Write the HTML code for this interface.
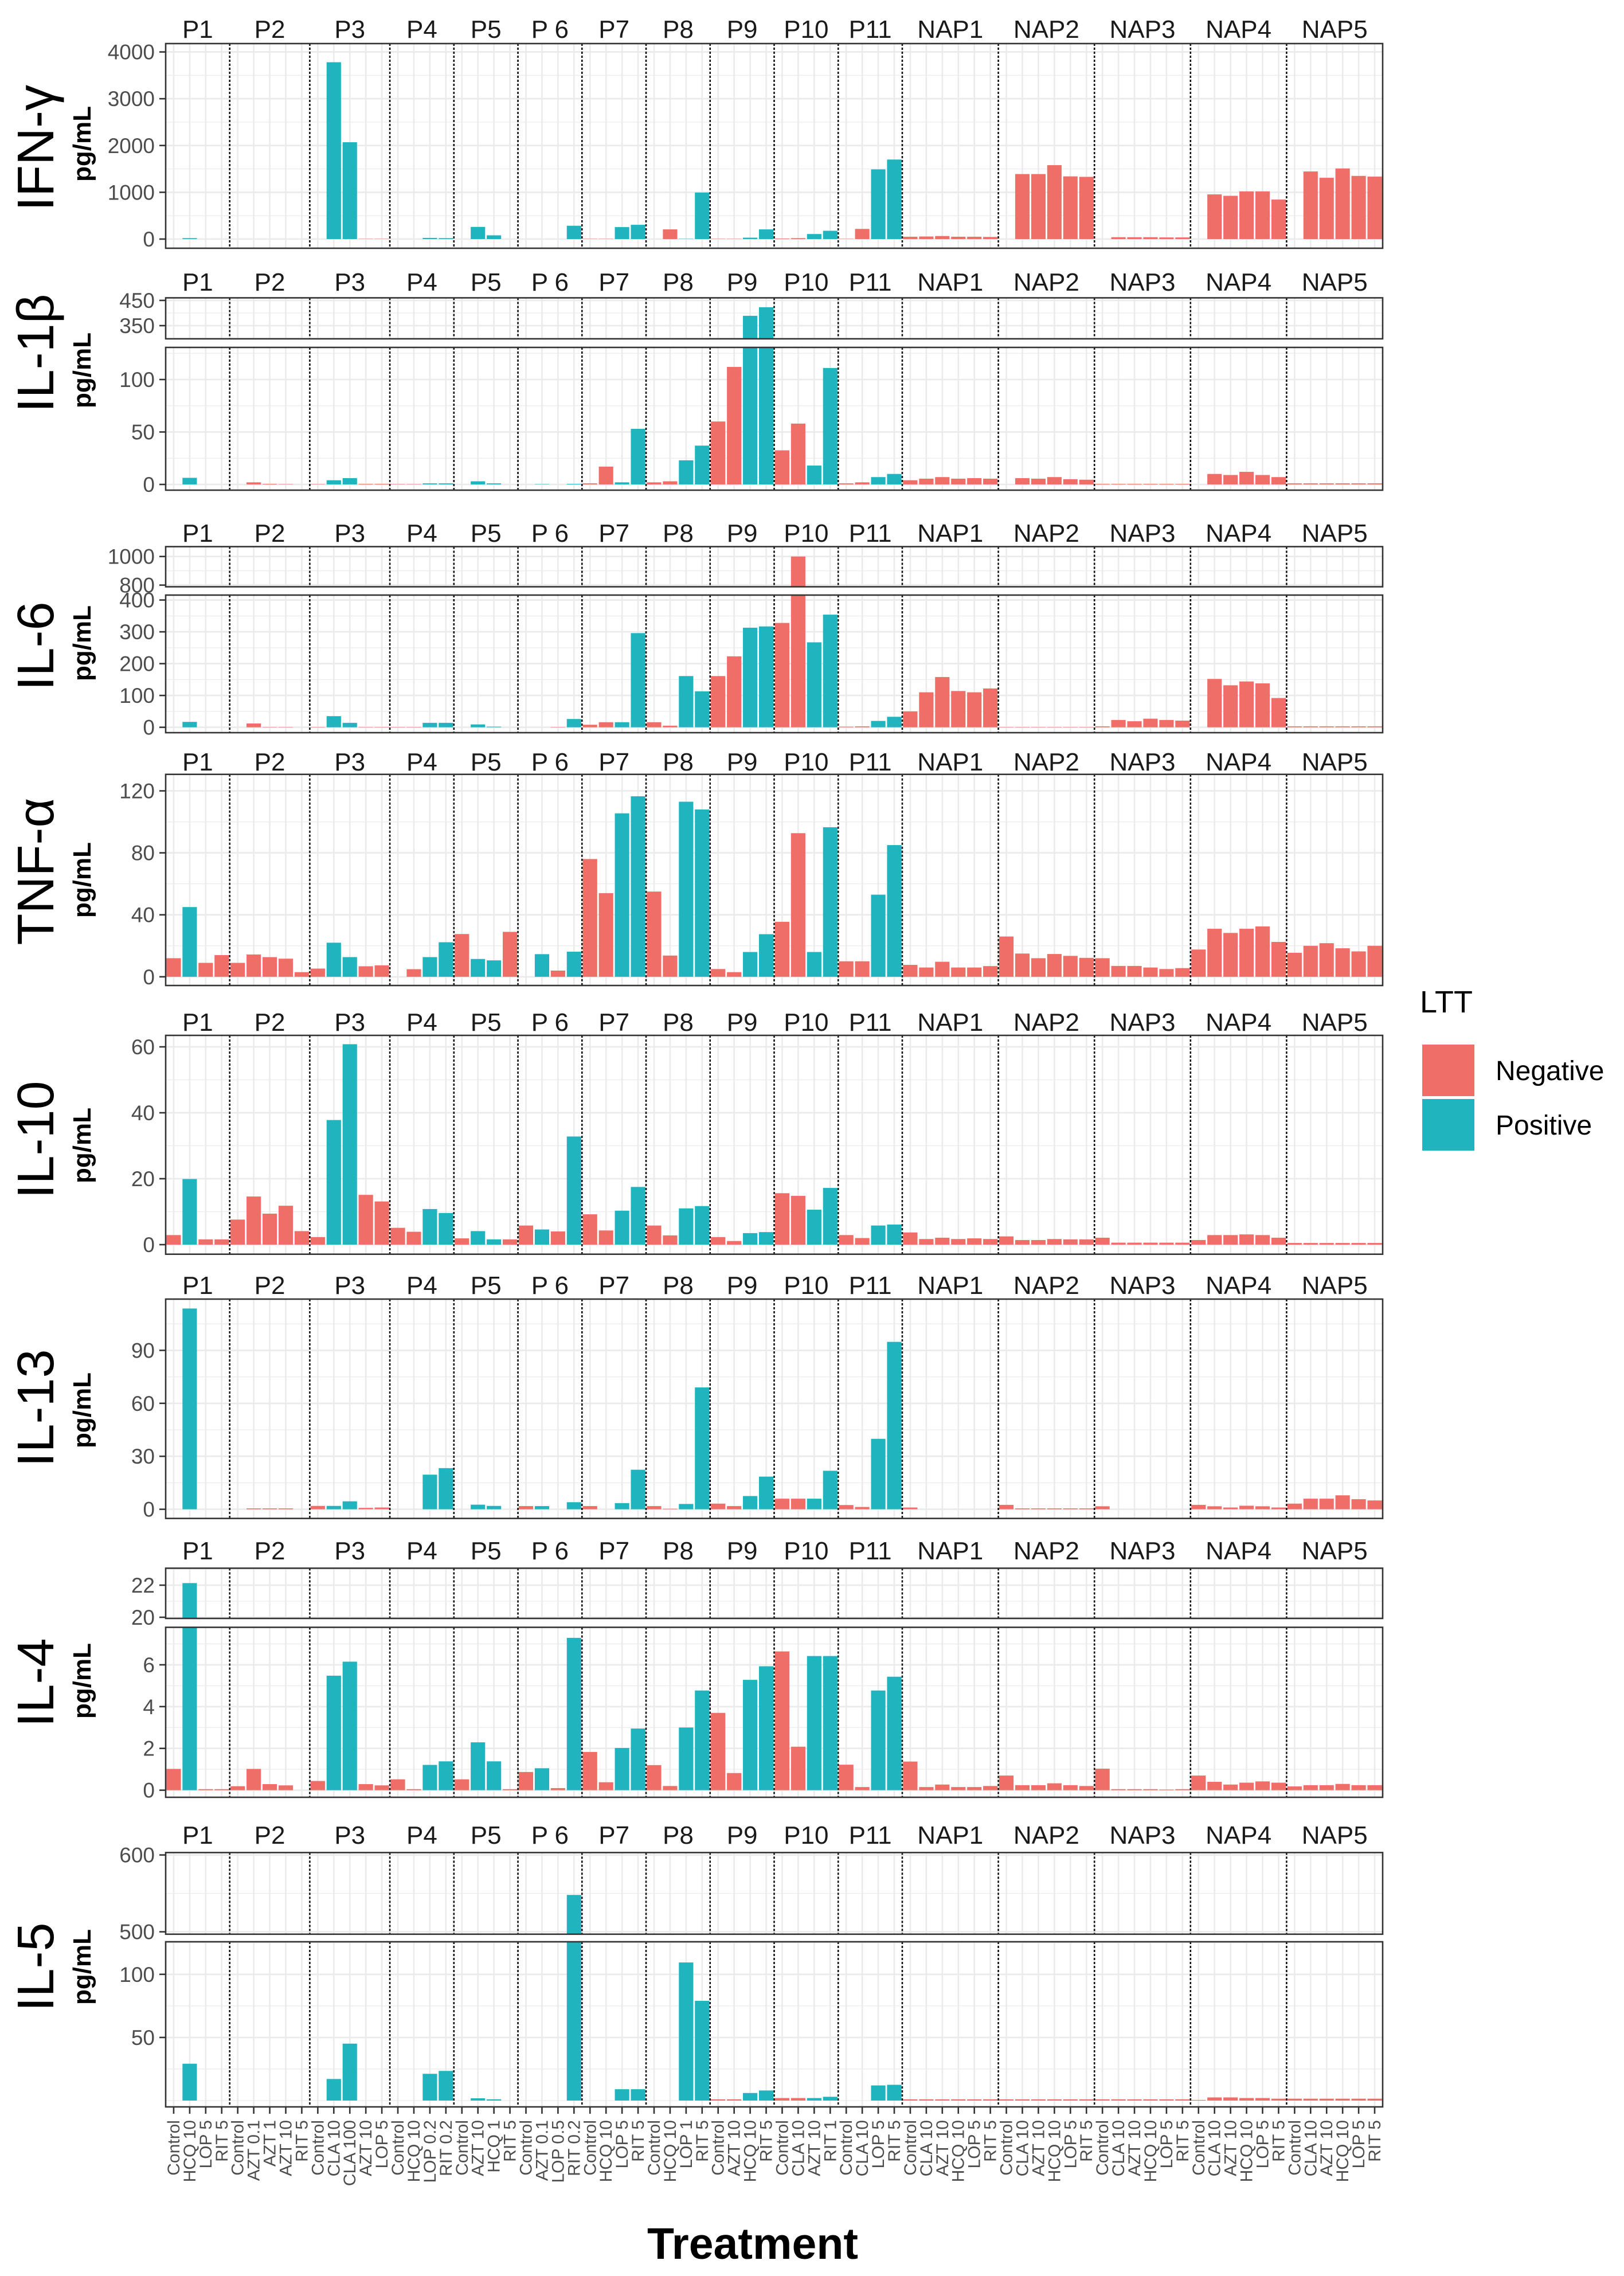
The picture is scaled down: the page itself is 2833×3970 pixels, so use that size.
<!DOCTYPE html>
<html><head><meta charset="utf-8"><title>Cytokines by treatment</title>
<style>
html,body{margin:0;padding:0;background:#fff;}
svg{display:block;font-family:"Liberation Sans",Arial,sans-serif;}
</style></head>
<body>
<svg id="chart" xmlns="http://www.w3.org/2000/svg" width="2833" height="3970" viewBox="0 0 2833 3970">
<rect x="0" y="0" width="2833" height="3970" fill="#fff"/>
</svg>
<script>
// ---------- DATA ----------
const facetNames = ["P1","P2","P3","P4","P5","P 6","P7","P8","P9","P10","P11","NAP1","NAP2","NAP3","NAP4","NAP5"];
const facetCounts = [4,5,5,4,4,4,4,4,4,4,4,6,6,6,6,6];
const treatments = [
 "Control","HCQ 10","LOP 5","RIT 5",
 "Control","AZT 0.1","AZT 1","AZT 10","RIT 5",
 "Control","CLA 10","CLA 100","AZT 10","LOP 5",
 "Control","HCQ 10","LOP 0.2","RIT 0.2",
 "Control","AZT 10","HCQ 1","RIT 5",
 "Control","AZT 0.1","LOP 0.5","RIT 0.2",
 "Control","HCQ 10","LOP 5","RIT 5",
 "Control","HCQ 10","LOP 1","RIT 5",
 "Control","AZT 10","HCQ 10","RIT 5",
 "Control","CLA 10","AZT 10","RIT 1",
 "Control","CLA 10","LOP 5","RIT 5",
 "Control","CLA 10","AZT 10","HCQ 10","LOP 5","RIT 5",
 "Control","CLA 10","AZT 10","HCQ 10","LOP 5","RIT 5",
 "Control","CLA 10","AZT 10","HCQ 10","LOP 5","RIT 5",
 "Control","CLA 10","AZT 10","HCQ 10","LOP 5","RIT 5",
 "Control","CLA 10","AZT 10","HCQ 10","LOP 5","RIT 5"];
const ltt = [
 "N","P","N","N", "N","N","N","N","N", "N","P","P","N","N", "N","N","P","P", "N","P","P","N",
 "N","P","N","P", "N","N","P","P", "N","N","P","P", "N","N","P","P", "N","N","P","P", "N","N","P","P",
 "N","N","N","N","N","N", "N","N","N","N","N","N", "N","N","N","N","N","N", "N","N","N","N","N","N", "N","N","N","N","N","N"];

const ifnValues = [0,20,0,0, 0,0,0,0,0, 0,3780,2070,5,5, 0,0,25,20, 0,260,80,0, 0,0,0,285, 5,5,256,305, 0,207,5,995, 5,5,30,207, 10,20,108,177, 5,217,1490,1700,
 50,55,65,50,50,45, 0,1390,1390,1580,1340,1330, 0,40,40,40,35,35, 0,955,925,1020,1020,845, 0,1445,1310,1510,1350,1335];
const il1bValues = [0,6.3,0,0, 0,2,0.5,0.3,0, 0.3,4,6,0.5,0.5, 0.3,0.3,1,1, 0,3,1,0, 0,0.3,0,0.5, 1,17,2,53, 2,3,23,37, 60,112,389,423, 32.5,58,18,111, 1,2,7,10,
 4,5.5,7,5.5,6,5.5, 0,6,5.5,7,5,4.5, 0.5,0.5,0.5,0.5,0.5,0.5, 0,10,9,12,9,7, 1,1,1,1,1,1];
const il6Values = [0,17,0,0, 0,12,1,1,0, 1,35,14,1,1, 1,1,14,14, 0,9,2,0, 0,0,1,26, 8,16,16,296, 16,5,161,113, 161,223,313,317, 328,1000,267,354, 2,3,20,33,
 50,110,158,114,110,122, 1,1,1,1,1,1, 3,23,19,27,23,21, 0,152,132,144,138,92, 3,3,3,3,3,3];
const tnfValues = [12,45,9,14, 9,14.4,12.7,11.7,3, 5.3,22,12.7,6.8,7.4, 0,4.9,12.7,22.3, 27.6,11.5,10.6,29, 0,14.6,4,16.2, 76,54,105.5,116.5, 55,13.7,113,108, 5,3,16,27.5, 35.5,92.7,16,96.5, 10,10,53,85,
 7.7,6,9.7,6,6,6.9, 26,15,12,14.7,13.5,12.2, 12,7,7,6,5,5.6, 17.6,31,28.3,31,32.5,22.5, 15.5,20,21.7,18.4,16.4,20];
const il10Values = [2.9,19.9,1.6,1.6, 7.6,14.6,9.4,11.8,4.1, 2.3,37.8,60.8,15.1,13.1, 5.1,3.9,10.8,9.6, 1.9,4.1,1.6,1.6, 5.8,4.6,4,32.8, 9.2,4.3,10.3,17.5, 5.8,2.8,11,11.7, 2.3,1.1,3.5,3.8, 15.6,14.8,10.6,17.2, 2.9,2,5.8,6.1,
 3.7,1.7,2.1,1.7,1.9,1.7, 2.5,1.4,1.4,1.7,1.6,1.6, 2.1,0.6,0.6,0.6,0.6,0.6, 1.4,2.9,2.9,3.1,2.9,2.1, 0.5,0.5,0.5,0.5,0.5,0.5];
const il13Values = [0,113.7,0,0, 0,0.5,0.5,0.5,0, 1.9,1.9,4.5,0.8,1, 0,0,19.6,23.3, 0,2.6,1.9,0, 1.8,1.8,0,4, 1.8,0,3.5,22.4, 1.8,0.3,3,69, 3.2,1.8,7.5,18.5, 6,6,6,21.8, 2.4,1.3,39.9,94.8,
 1,0,0,0,0,0, 2.5,0.5,0.5,0.5,0.5,0.5, 1.7,0,0,0,0,0, 2.5,1.7,1,2,1.7,1, 3.2,6,6,7.9,5.7,5];
const il4Values = [1.02,22.13,0.05,0.05, 0.19,1.02,0.29,0.23,0, 0.44,5.48,6.15,0.29,0.23, 0.52,0.05,1.21,1.38, 0.52,2.29,1.38,0.05, 0.87,1.05,0.1,7.29, 1.83,0.38,2.02,2.95, 1.2,0.2,3.0,4.77, 3.7,0.82,5.28,5.93, 6.64,2.08,6.42,6.42, 1.22,0.15,4.77,5.43,
 1.37,0.15,0.27,0.15,0.15,0.2, 0.7,0.24,0.24,0.33,0.24,0.2, 1.03,0.05,0.05,0.05,0.03,0.05, 0.7,0.4,0.27,0.36,0.42,0.36, 0.18,0.24,0.24,0.3,0.24,0.24];
const il5Values = [0,29.2,0,0, 0,0,0,0,0, 0,17.1,45.1,0,0, 0,0,21.2,23.5, 0,1.8,1,0, 0,0,0,548, 0,0,9,9, 0,0,109.4,79, 1,1,6,8, 2,2,2,3, 0,0,12,12.5,
 1,1,1,1,1,1, 1,1,1,1,1,1, 1,1,1,1,1,1, 0.5,2.5,2.5,2,2,1.5, 1.5,1.5,1.5,1.5,1.5,1.5];

const cytokineNames = ["IFN-γ","IL-1β","IL-6","TNF-α","IL-10","IL-13","IL-4","IL-5"];
const ifnTicks = [0,1000,2000,3000,4000];
const il1bTicksLow = [0,50,100], il1bTicksHigh = [350,450];
const il6TicksLow = [0,100,200,300,400], il6TicksHigh = [800,1000];
const tnfTicks = [0,40,80,120];
const il10Ticks = [0,20,40,60];
const il13Ticks = [0,30,60,90];
const il4TicksLow = [0,2,4,6], il4TicksHigh = [20,22];
const il5TicksLow = [50,100], il5TicksHigh = [500,600];
const legendLabels = ["Negative","Positive"];

// ---------- LAYOUT ----------
const NS = "http://www.w3.org/2000/svg";
const svg = document.getElementById("chart");
const LEFT = 289, RIGHT = 2412, NSLOT = treatments.length;
const SLOT = (RIGHT - LEFT) / NSLOT;
const COL = {N:"#EF6F68", P:"#20B4BF"};
function xPos(i){ return LEFT + i*SLOT; }
function mk(tag, attrs, parent){
  const e = document.createElementNS(NS, tag);
  for (const k in attrs) e.setAttribute(k, attrs[k]);
  (parent||svg).appendChild(e); return e;
}
// panel: {top,bottom,refV,refY,ppu,ticks,minorStep}
const rows = [
 {name:cytokineNames[0], values:ifnValues, strip:50, big:258, pg:251, panels:[
   {top:76,bottom:433,refV:0,refY:417,ppu:0.0816,ticks:ifnTicks,minor:500}]},
 {name:cytokineNames[1], values:il1bValues, strip:491, big:616, pg:646, panels:[
   {top:519.5,bottom:591,refV:450,refY:524,ppu:0.44,ticks:il1bTicksHigh,minor:50},
   {top:606,bottom:855,refV:0,refY:845,ppu:1.83,ticks:il1bTicksLow,minor:25}]},
 {name:cytokineNames[2], values:il6Values, strip:929, big:1127, pg:1122, panels:[
   {top:953.5,bottom:1023.5,refV:1000,refY:970.7,ppu:0.2495,ticks:il6TicksHigh,minor:100},
   {top:1038,bottom:1278,refV:0,refY:1268.6,ppu:0.555,ticks:il6TicksLow,minor:50}]},
 {name:cytokineNames[3], values:tnfValues, strip:1328, big:1520, pg:1535, panels:[
   {top:1350.7,bottom:1719,refV:0,refY:1703.8,ppu:2.7025,ticks:tnfTicks,minor:20}]},
 {name:cytokineNames[4], values:il10Values, strip:1782, big:1988, pg:1998, panels:[
   {top:1806,bottom:2187.7,refV:0,refY:2171,ppu:5.75,ticks:il10Ticks,minor:10}]},
 {name:cytokineNames[5], values:il13Values, strip:2241, big:2456, pg:2460, panels:[
   {top:2266,bottom:2648.6,refV:0,refY:2632.6,ppu:3.08,ticks:il13Ticks,minor:15}]},
 {name:cytokineNames[6], values:il4Values, strip:2704, big:2935, pg:2932, panels:[
   {top:2735.4,bottom:2823,refV:22,refY:2765,ppu:28,ticks:il4TicksHigh,minor:1},
   {top:2838.5,bottom:3135,refV:0,refY:3122.6,ppu:36.45,ticks:il4TicksLow,minor:1}]},
 {name:cytokineNames[7], values:il5Values, strip:3200, big:3431, pg:3431, panels:[
   {top:3231.4,bottom:3373.8,refV:600,refY:3235.6,ppu:1.34,ticks:il5TicksHigh,minor:50},
   {top:3387,bottom:3675,refV:0,refY:3664,ppu:2.202,ticks:il5TicksLow,minor:25}]}
];

const defs = mk("defs",{});
rows.forEach((row, ri) => {
  const slug = row.name.toLowerCase().replace(/[^a-z0-9]+/g,"-");
  const g = mk("g",{});
  
  
  // strip labels
  let start = 0;
  facetNames.forEach((fn, fi) => {
    const cx = xPos(start + facetCounts[fi]/2);
    const t = mk("text",{x:cx,y:row.strip+16,"text-anchor":"middle","font-size":44,fill:"#1a1a1a"},g);
    t.textContent = fn;
    
    
    start += facetCounts[fi];
  });
  // titles
  const big = mk("text",{x:93,y:row.big,"text-anchor":"middle","font-size":90,fill:"#000",transform:`rotate(-90 93 ${row.big})`},g);
  big.textContent = row.name;
  
  
  const pg = mk("text",{x:158,y:row.pg,"text-anchor":"middle","font-size":44,"font-weight":"bold",fill:"#000",transform:`rotate(-90 158 ${row.pg})`},g);
  pg.textContent = "pg/mL";
  
  

  row.panels.forEach((p, pi) => {
    const yOf = v => p.refY - (v - p.refV)*p.ppu;
    const vTop = p.refV + (p.refY - p.top)/p.ppu;
    const vBot = p.refV + (p.refY - p.bottom)/p.ppu;
    const cid = "clip"+ri+"_"+pi;
    const cp = mk("clipPath",{id:cid},defs);
    mk("rect",{x:LEFT,y:p.top,width:RIGHT-LEFT,height:p.bottom-p.top},cp);
    const pg2 = mk("g",{"clip-path":`url(#${cid})`},g);
    
    
    // minor horizontal grid
    const m0 = Math.ceil(vBot/p.minor)*p.minor;
    for (let v = m0; v <= vTop; v += p.minor){
      const isMajor = p.ticks.some(t => Math.abs(t - v) < 1e-9);
      mk("line",{x1:LEFT,x2:RIGHT,y1:yOf(v),y2:yOf(v),stroke:"#ECECEC","stroke-width":isMajor?2.6:1.3},pg2);
    }
    p.ticks.forEach(t => mk("line",{x1:LEFT,x2:RIGHT,y1:yOf(t),y2:yOf(t),stroke:"#EBEBEB","stroke-width":2.6},pg2));
    // vertical grid
    for (let i=0;i<NSLOT;i++){
      const cx = xPos(i+0.5);
      mk("line",{x1:cx,x2:cx,y1:p.top,y2:p.bottom,stroke:"#EBEBEB","stroke-width":2.6},pg2);
    }
    // bars
    row.values.forEach((v, i) => {
      if (v <= vBot) return;
      const y0 = Math.min(p.bottom, yOf(Math.max(0, vBot)));
      const y1 = yOf(v);
      const b = mk("rect",{x:xPos(i)+SLOT*0.05,y:y1,width:SLOT*0.9,height:Math.max(0,y0-y1),fill:COL[ltt[i]]},pg2);
      
      
    });
    // facet separators
    let s = 0;
    for (let fi=0; fi<facetCounts.length-1; fi++){
      s += facetCounts[fi];
      const x = xPos(s);
      mk("line",{x1:x,x2:x,y1:p.top,y2:p.bottom,stroke:"#111","stroke-width":2.6,"stroke-dasharray":"4,3"},pg2);
    }
    // border
    const br = mk("rect",{x:LEFT,y:p.top,width:RIGHT-LEFT,height:p.bottom-p.top,fill:"none",stroke:"#333","stroke-width":2.6},g);
    
    
    // y ticks
    p.ticks.forEach(t => {
      const y = yOf(t);
      mk("line",{x1:278,x2:LEFT,y1:y,y2:y,stroke:"#333","stroke-width":2.6},g);
      const tl = mk("text",{x:270,y:y+13,"text-anchor":"end","font-size":37,fill:"#4d4d4d"},g);
      tl.textContent = String(t);
      
      
    });
  });
});

// x axis ticks and labels
const xa = mk("g",{});


treatments.forEach((t, i) => {
  const cx = xPos(i+0.5);
  mk("line",{x1:cx,x2:cx,y1:3675,y2:3687,stroke:"#333","stroke-width":2.6},xa);
  const lb = mk("text",{x:cx+10,y:3698,"text-anchor":"end","font-size":30,fill:"#4d4d4d",transform:`rotate(-90 ${cx+10} 3698)`},xa);
  lb.textContent = t;
  
  
});
const xt = mk("text",{x:1313,y:3940,"text-anchor":"middle","font-size":77,"font-weight":"bold",fill:"#000"});
xt.textContent = "Treatment";



// legend
const lg = mk("g",{});


const lt = mk("text",{x:2477,y:1766,"font-size":54,fill:"#000"},lg);
lt.textContent = "LTT";


legendLabels.forEach((l, k) => {
  const y = 1822 + k*95;
  const key = mk("rect",{x:2481,y:y,width:91,height:90,fill:k===0?COL.N:COL.P},lg);
  
  
  const tx = mk("text",{x:2609,y:y+62,"font-size":48,fill:"#000"},lg);
  tx.textContent = l;
  
  
});
</script>
</body></html>
